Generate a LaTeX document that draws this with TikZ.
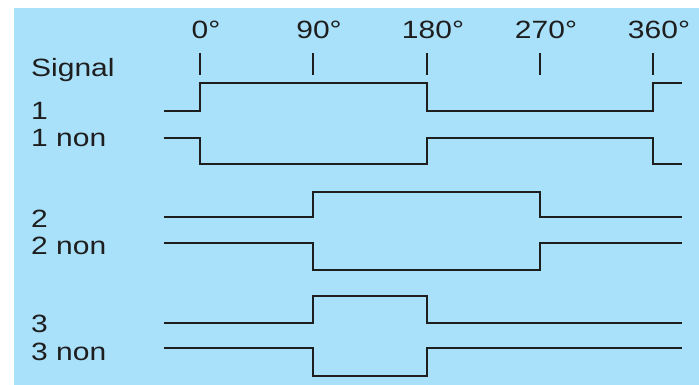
\documentclass[tikz,border=0pt]{standalone}
\usepackage{fontspec}
\setmainfont[FakeStretch=1.2]{Liberation Sans}
\usetikzlibrary{positioning}

\definecolor{panel}{RGB}{169,224,250}
\definecolor{ink}{RGB}{30,30,30}

\tikzset{
    wave/.style={draw=ink, line width=2.1pt, line join=miter},
    label text/.style={anchor=base west, inner sep=0pt, text=ink, font=\fontsize{25}{25}\selectfont},
    phase text/.style={anchor=base, inner sep=0pt, text=ink, font=\fontsize{25}{25}\selectfont},
}

\begin{document}
\begin{tikzpicture}[x=1pt, y=-1pt]
    \useasboundingbox (0,0) rectangle (699,385);
    \fill[panel] (14,8) rectangle (699,385);

    % phase marks
    \foreach \deg/\xpos in {0/200, 90/313, 180/427, 270/540, 360/653} {
        \node[phase text] (Phase \deg) at (\xpos+6,39) {\deg°};
        \draw[wave] (\xpos,53) -- (\xpos,75);
    }

    % signal names
    \node[label text] (Signal)  at (31,77)  {Signal};
    \node[label text] (Label 1) at (31,120) {1};
    \node[label text] (Label 1n) at (31,147) {1 non};
    \node[label text] (Label 2) at (31,227) {2};
    \node[label text] (Label 2n) at (31,254) {2 non};
    \node[label text] (Label 3) at (31,332) {3};
    \node[label text] (Label 3n) at (31,360) {3 non};

    % waveforms
    \draw[wave] (164,111) -- (200,111) -- (200,83) -- (427,83) -- (427,111) -- (653,111) -- (653,83) -- (682,83);
    \draw[wave] (164,138) -- (200,138) -- (200,164) -- (427,164) -- (427,138) -- (653,138) -- (653,164) -- (682,164);
    \draw[wave] (164,217) -- (313,217) -- (313,192) -- (540,192) -- (540,217) -- (682,217);
    \draw[wave] (164,243) -- (313,243) -- (313,270) -- (540,270) -- (540,243) -- (682,243);
    \draw[wave] (164,323) -- (313,323) -- (313,296) -- (427,296) -- (427,323) -- (682,323);
    \draw[wave] (164,348) -- (313,348) -- (313,376) -- (427,376) -- (427,348) -- (682,348);
\end{tikzpicture}
\end{document}
